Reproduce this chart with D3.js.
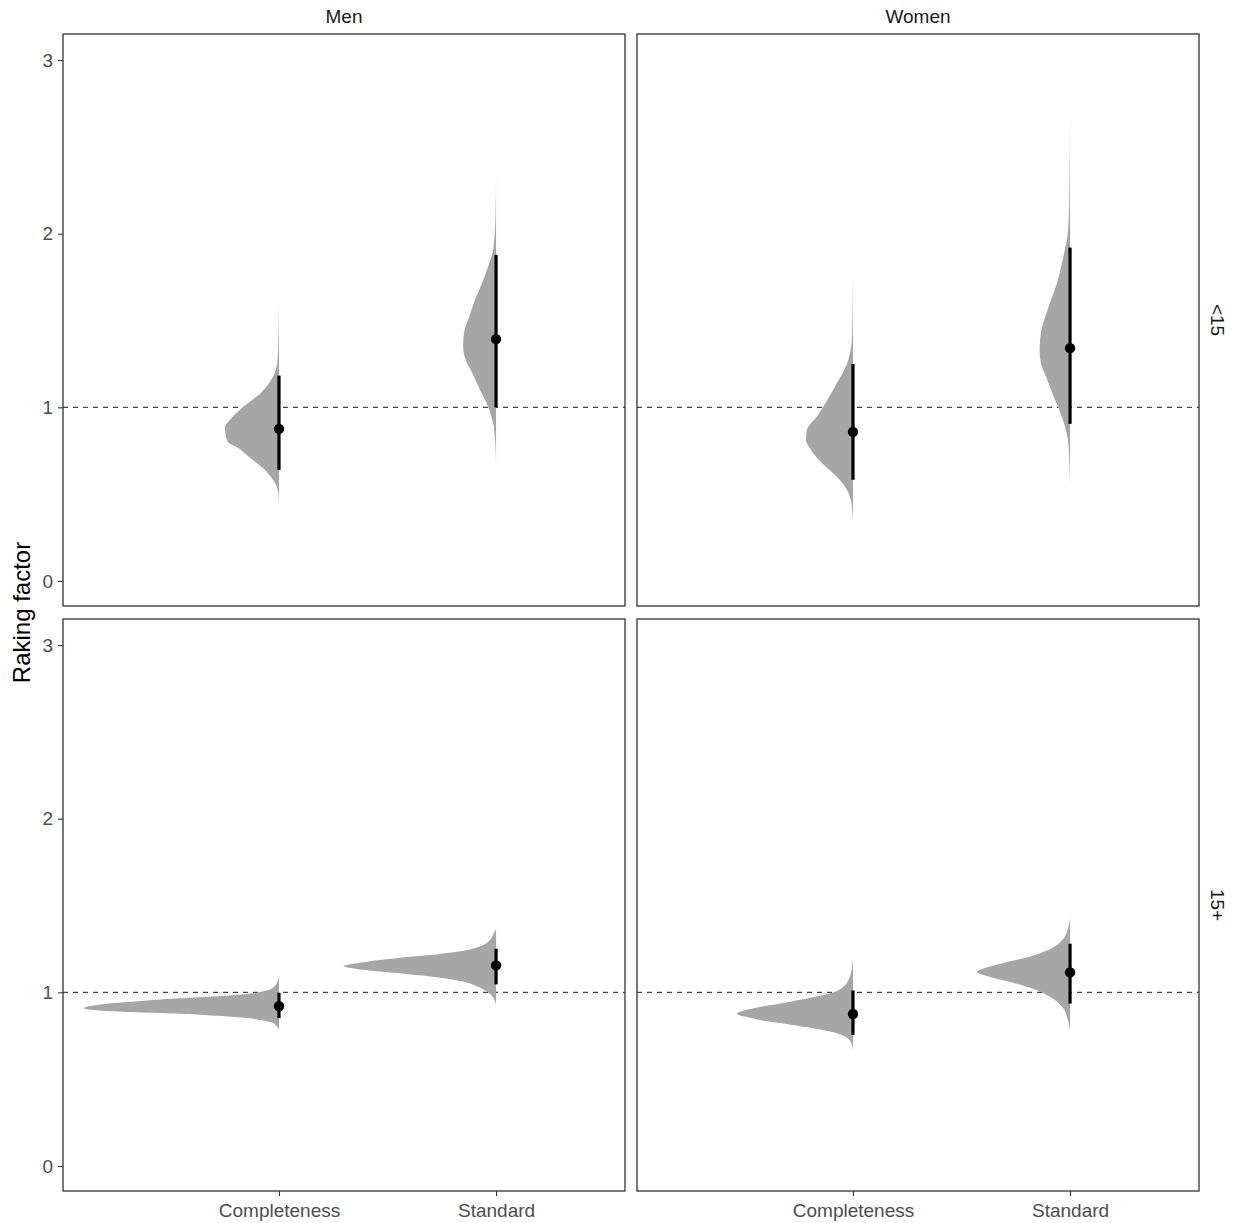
<!DOCTYPE html>
<html>
<head>
<meta charset="utf-8">
<script src="https://cdn.jsdelivr.net/npm/d3@7"></script>
<style>
body { margin: 0; background: #fff; }
text { font-family: "Liberation Sans", Arial, sans-serif; }
</style>
</head>
<body>
<div id="chart"></div>
<script>
// facets and categories
var sexes = ["Men", "Women"];
var ages = ["<15", "15+"];
var types = ["Completeness", "Standard"];
var yTicks = [0, 1, 2, 3];

// one entry per slab
var slabSex  = ["Men", "Men", "Women", "Women", "Men", "Men", "Women", "Women"];
var slabAge  = ["<15", "<15", "<15", "<15", "15+", "15+", "15+", "15+"];
var slabType = ["Completeness", "Standard", "Completeness", "Standard",
                "Completeness", "Standard", "Completeness", "Standard"];
var medians  = [0.876, 1.393, 0.859, 1.341, 0.920, 1.155, 0.875, 1.115];
var lower95  = [0.640, 1.000, 0.583, 0.905, 0.851, 1.046, 0.755, 0.935];
var upper95  = [1.183, 1.878, 1.249, 1.920, 0.998, 1.251, 1.011, 1.280];

// density profiles [raking factor, relative density]
var densMenU15Comp = [[0.46,0],[0.54,0.010],[0.59,0.036],[0.65,0.082],[0.71,0.149],[0.77,0.215],
  [0.80,0.262],[0.84,0.272],[0.88,0.277],[0.94,0.241],[1.00,0.185],[1.09,0.087],[1.147,0.046],
  [1.245,0.010],[1.32,0.005],[1.61,0]];
var densMenU15Std = [[0.66,0],[0.81,0.005],[0.91,0.015],[1.005,0.041],[1.10,0.082],[1.20,0.123],
  [1.27,0.154],[1.35,0.169],[1.43,0.164],[1.52,0.138],[1.62,0.108],[1.715,0.072],[1.81,0.041],
  [1.907,0.015],[2.10,0.003],[2.37,0]];
var densWomenU15Comp = [[0.335,0],[0.45,0.008],[0.525,0.031],[0.60,0.082],[0.68,0.159],[0.755,0.215],
  [0.813,0.241],[0.87,0.236],[0.947,0.185],[1.04,0.133],[1.14,0.082],[1.235,0.036],[1.33,0.012],
  [1.43,0.004],[1.79,0]];
var densWomenU15Std = [[0.544,0],[0.66,0.003],[0.794,0.009],[0.89,0.026],[0.986,0.056],[1.08,0.090],
  [1.177,0.123],[1.254,0.149],[1.33,0.156],[1.43,0.149],[1.52,0.128],[1.62,0.097],[1.715,0.067],
  [1.81,0.046],[1.91,0.026],[2.00,0.012],[2.195,0.004],[2.695,0]];
var densMen15Comp = [[0.787,0],[0.806,0.012],[0.826,0.036],[0.839,0.087],[0.855,0.190],[0.868,0.364],
  [0.878,0.533],[0.884,0.703],[0.893,0.877],[0.909,1.0],[0.935,0.877],[0.95,0.703],[0.964,0.533],
  [0.975,0.364],[0.988,0.190],[0.998,0.113],[1.01,0.062],[1.027,0.031],[1.056,0.010],[1.10,0]];
var densMen15Std = [[0.93,0],[0.943,0.004],[0.989,0.029],[1.027,0.081],[1.065,0.183],[1.094,0.354],
  [1.113,0.523],[1.132,0.696],[1.151,0.781],[1.171,0.696],[1.195,0.523],[1.213,0.354],[1.237,0.183],
  [1.266,0.081],[1.305,0.029],[1.345,0.010],[1.36,0]];
var densWomen15Comp = [[0.663,0],[0.691,0.004],[0.73,0.021],[0.753,0.055],[0.772,0.106],[0.791,0.191],
  [0.806,0.277],[0.822,0.363],[0.835,0.448],[0.855,0.533],[0.877,0.593],[0.902,0.533],[0.921,0.448],
  [0.937,0.363],[0.956,0.277],[0.975,0.191],[0.998,0.106],[1.027,0.055],[1.075,0.021],[1.151,0.004],[1.2,0]];
var densWomen15Std = [[0.778,0],[0.845,0.012],[0.912,0.037],[0.964,0.089],[1.007,0.157],[1.04,0.243],
  [1.065,0.328],[1.09,0.414],[1.117,0.477],[1.148,0.414],[1.174,0.328],[1.195,0.243],[1.224,0.157],
  [1.257,0.089],[1.305,0.037],[1.362,0.012],[1.43,0]];
var densities = [densMenU15Comp, densMenU15Std, densWomenU15Comp, densWomenU15Std,
                 densMen15Comp, densMen15Std, densWomen15Comp, densWomen15Std];

var refLine = 1;

// layout
var W = 1238, H = 1223;
var colX = [63, 637], rowY = [34, 619];
var pw = 562, ph = 572;

var svg = d3.select("#chart").append("svg")
    .attr("width", W)
    .attr("height", H);

// scales (local to a panel)
var x = d3.scaleLinear().domain([0.005, 2.594]).range([0, pw]);
var y = d3.scaleLinear().domain([-0.144, 3.15]).range([ph, 0]);
var thick = d3.scaleLinear().domain([0, 1]).range([0, 0.9]);
var typePos = d3.scaleOrdinal().domain(types).range([1, 2]);

var slab = function(pos) {
    return d3.area()
        .curve(d3.curveMonotoneY)
        .y(function(d) { return y(d[0]); })
        .x0(function() { return x(pos); })
        .x1(function(d) { return x(pos - thick(d[1])); });
};

ages.forEach(function(age, r) {
    sexes.forEach(function(sex, c) {
        var g = svg.append("g")
            .attr("transform", "translate(" + colX[c] + "," + rowY[r] + ")");

        // reference line
        g.append("line")
            .attr("x1", 0).attr("x2", pw)
            .attr("y1", y(refLine)).attr("y2", y(refLine))
            .attr("stroke", "#444")
            .attr("stroke-width", 1.1)
            .attr("stroke-dasharray", "5,5");

        d3.range(medians.length).forEach(function(i) {
            if (slabSex[i] !== sex || slabAge[i] !== age) return;
            var pos = typePos(slabType[i]);

            g.append("path")
                .datum(densities[i])
                .attr("d", slab(pos))
                .attr("fill", "#a6a6a6");

            g.append("line")
                .attr("x1", x(pos)).attr("x2", x(pos))
                .attr("y1", y(lower95[i])).attr("y2", y(upper95[i]))
                .attr("stroke", "#000")
                .attr("stroke-width", 3.2);

            g.append("circle")
                .attr("cx", x(pos))
                .attr("cy", y(medians[i]))
                .attr("r", 5.2)
                .attr("fill", "#000");
        });

        // panel border
        g.append("rect")
            .attr("width", pw).attr("height", ph)
            .attr("fill", "none")
            .attr("stroke", "#333")
            .attr("stroke-width", 1.3);

        if (c === 0) {
            var ya = g.append("g").call(d3.axisLeft(y).tickValues(yTicks).tickSize(5).tickPadding(5)
                .tickFormat(d3.format("d")));
            ya.select(".domain").remove();
            ya.selectAll("line").attr("stroke", "#333").attr("stroke-width", 1.1);
            ya.selectAll("text").attr("fill", "#4d4d4d").style("font-size", "19px")
                .attr("font-family", null);
        }
        if (r === 1) {
            var xa = g.append("g")
                .attr("transform", "translate(0," + ph + ")")
                .call(d3.axisBottom(x).tickValues(types.map(typePos)).tickSize(5).tickPadding(8)
                    .tickFormat(function(d, i) { return types[i]; }));
            xa.select(".domain").remove();
            xa.selectAll("line").attr("stroke", "#333").attr("stroke-width", 1.1);
            xa.selectAll("text").attr("fill", "#4d4d4d").style("font-size", "19px")
                .attr("font-family", null);
        }

        // strip labels
        if (r === 0) {
            svg.append("text")
                .attr("x", colX[c] + pw / 2)
                .attr("y", 16)
                .attr("dy", "0.35em")
                .attr("text-anchor", "middle")
                .attr("fill", "#1a1a1a")
                .style("font-size", "19px")
                .text(sex);
        }
        if (c === 1) {
            svg.append("text")
                .attr("transform", "translate(1218," + (rowY[r] + ph / 2) + ") rotate(90)")
                .attr("dy", "0.35em")
                .attr("text-anchor", "middle")
                .attr("fill", "#1a1a1a")
                .style("font-size", "19px")
                .text(age);
        }
    });
});

// y axis title
svg.append("text")
    .attr("transform", "translate(22," + ((rowY[0] + rowY[1] + ph) / 2) + ") rotate(-90)")
    .attr("dy", "0.35em")
    .attr("text-anchor", "middle")
    .attr("fill", "#000")
    .style("font-size", "24px")
    .text("Raking factor");
</script>
</body>
</html>
